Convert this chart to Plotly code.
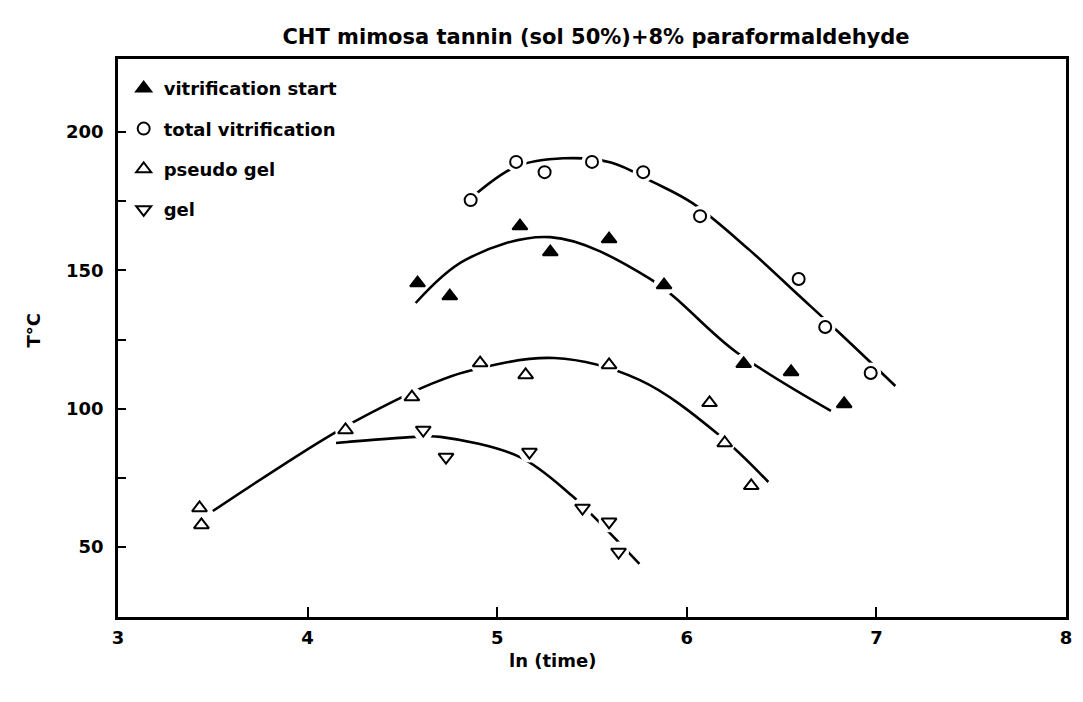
import plotly.graph_objects as go

# ---- measured points ----
vs_x = [4.58, 4.75, 5.12, 5.28, 5.59, 5.88, 6.30, 6.55, 6.83]
vs_y = [145.4, 140.7, 166.0, 156.6, 161.3, 144.7, 116.2, 113.3, 101.7]
tv_x = [4.86, 5.10, 5.25, 5.50, 5.77, 6.07, 6.59, 6.73, 6.97]
tv_y = [175.4, 189.2, 185.5, 189.2, 185.5, 169.6, 146.9, 129.5, 112.9]
pg_x = [3.43, 3.44, 4.20, 4.55, 4.91, 5.15, 5.59, 6.12, 6.20, 6.34]
pg_y = [64.1, 58.0, 92.3, 104.2, 116.5, 112.2, 115.8, 102.1, 87.6, 72.1]
g_x = [4.61, 4.73, 5.17, 5.45, 5.59, 5.64]
g_y = [92.3, 82.5, 84.3, 64.1, 59.1, 48.2]

# ---- fitted curves ----
vs_cx = [4.57, 4.83, 5.28, 5.80, 6.26, 6.76]
vs_cy = [138.2, 153.7, 162.0, 147.2, 120.5, 99.2]
tv_cx = [4.86, 5.10, 5.35, 5.60, 5.82, 6.03, 6.33, 6.59, 6.80, 7.10]
tv_cy = [176.0, 187.5, 190.5, 189.0, 182.0, 174.3, 157.4, 141.0, 127.7, 108.2]
pg_cx = [3.50, 4.14, 4.49, 4.64, 4.83, 5.30, 5.75, 6.17, 6.43]
pg_cy = [63.0, 91.2, 103.9, 108.6, 113.3, 118.3, 110.4, 90.5, 73.5]
g_cx = [4.15, 4.57, 4.70, 5.12, 5.39, 5.50, 5.75]
g_cy = [87.6, 89.8, 89.8, 82.5, 68.8, 61.6, 43.9]

names = ["vitrification start", "total vitrification", "pseudo gel", "gel"]
symbols = ["triangle-up", "circle-open", "triangle-up-open", "triangle-down-open"]

FONT = "DejaVu Sans"
OFF = 8  # browser body margin
W, H = 1083 - OFF, 702 - OFF
L, R, T, B = 118 - OFF, 11, 59 - OFF, 85
PW, PH = W - L - R, H - T - B

fig = go.Figure()

curves = [(vs_cx, vs_cy), (tv_cx, tv_cy), (pg_cx, pg_cy), (g_cx, g_cy)]
for cx, cy in curves:
    fig.add_trace(go.Scatter(x=cx, y=cy, mode="lines", showlegend=False,
                             line=dict(color="black", width=2.6, shape="spline", smoothing=1.0),
                             hoverinfo="skip"))

pts = [(vs_x, vs_y), (tv_x, tv_y), (pg_x, pg_y), (g_x, g_y)]
# white halos that break the curves around the markers
for px, py in pts:
    fig.add_trace(go.Scatter(x=px, y=py, mode="markers", showlegend=False,
                             marker=dict(symbol="circle", size=21, color="white",
                                         line=dict(width=0)), hoverinfo="skip"))

for i, (px, py) in enumerate(pts):
    fig.add_trace(go.Scatter(x=px, y=py, mode="markers", name=names[i],
                             legendgroup=names[i],
                             marker=dict(symbol=symbols[i], size=13 if i != 1 else 12,
                                         color="black",
                                         line=dict(color="black", width=2))))

fig.update_layout(
    width=W, height=H,
    margin=dict(l=L, r=R, t=T, b=B),
    paper_bgcolor="white", plot_bgcolor="white",
    font=dict(family=FONT, color="black", size=17),
    title=dict(text="CHT mimosa tannin (sol 50%)+8% paraformaldehyde",
               x=(596 - OFF) / W, xanchor="center", y=1 - (37 - OFF) / H, yanchor="middle",
               yref="container",
               font=dict(family=FONT, size=21, color="black", weight="bold")),
    legend=dict(x=0.006, y=1 - (70 - 59) / PH, xanchor="left", yanchor="top",
                bgcolor="rgba(0,0,0,0)", tracegroupgap=14,
                font=dict(family=FONT, size=18, color="black", weight="bold")),
    xaxis=dict(range=[3, 8], tickvals=[3, 4, 5, 6, 7, 8], ticks="inside", ticklen=10,
               tickwidth=2, tickcolor="black", showline=True, linecolor="black",
               linewidth=2.5, mirror=True, showgrid=False, zeroline=False,
               ticklabelstandoff=3,
               tickfont=dict(family=FONT, size=18, weight="bold")),
    yaxis=dict(range=[24.7, 226.4], tickvals=[50, 100, 150, 200], ticks="inside",
               ticklen=8, tickwidth=2, tickcolor="black", showline=True,
               linecolor="black", linewidth=2.5, mirror=True, showgrid=False,
               zeroline=False, ticklabelstandoff=8,
               minor=dict(tickvals=[75, 125, 175], ticks="inside", ticklen=8,
                          tickwidth=2, tickcolor="black", showgrid=False),
               tickfont=dict(family=FONT, size=18, weight="bold")),
    annotations=[
        dict(text="ln (time)", xref="paper", yref="paper", x=(555 - 118) / PW,
             y=-(660 - 617) / PH, xanchor="center", yanchor="middle", showarrow=False,
             font=dict(family=FONT, size=18, weight="bold")),
        dict(text="T°C", xref="paper", yref="paper", x=-(118 - 32) / PW,
             y=(617 - 330) / PH, xanchor="center", yanchor="middle", showarrow=False,
             textangle=-90, font=dict(family=FONT, size=18, weight="bold")),
    ],
)

fig.write_html("out.html")
